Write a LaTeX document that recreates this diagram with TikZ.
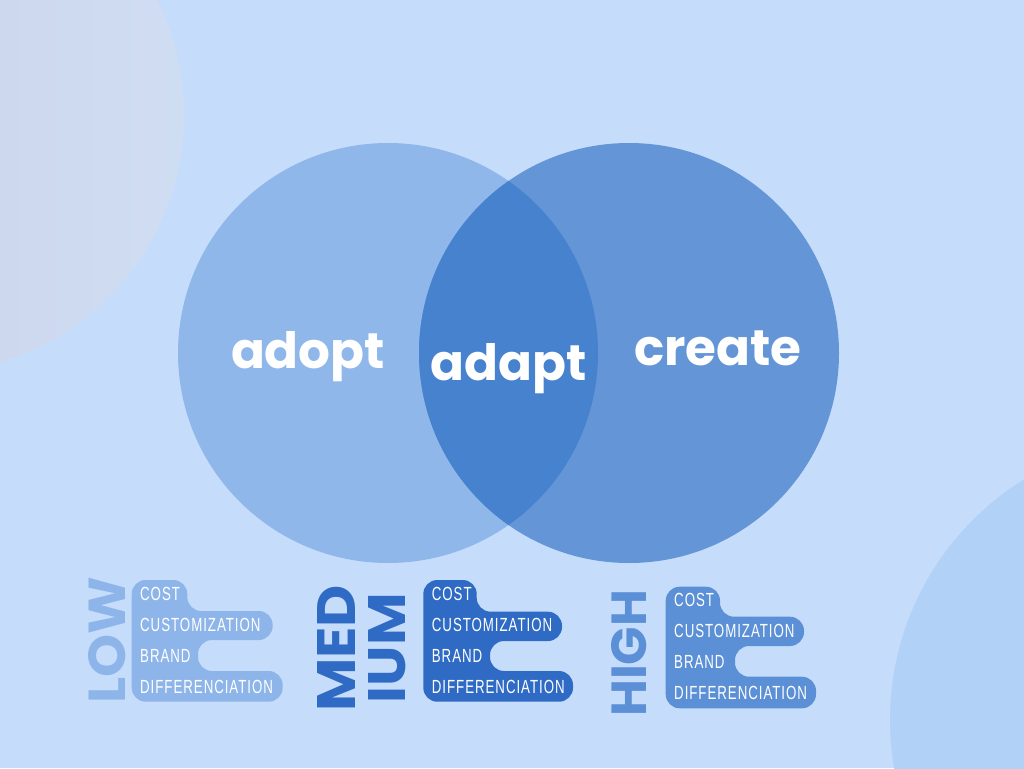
\documentclass[tikz,border=0pt]{standalone}
\usepackage{fontspec}
\setmainfont{Poppins}
\newfontfamily\condfont[FakeStretch=0.7,LetterSpace=5]{Liberation Sans}
\definecolor{bg}{RGB}{197,221,251}
\definecolor{cAdopt}{RGB}{143,183,234}
\definecolor{cCreate}{RGB}{99,149,215}
\definecolor{cLens}{RGB}{70,130,205}
\definecolor{cMed}{RGB}{47,107,196}
\definecolor{cHigh}{RGB}{91,143,214}
\definecolor{cLow}{RGB}{142,181,233}
\definecolor{blobA}{RGB}{202,207,228}
\definecolor{blobB}{RGB}{207,221,243}
\definecolor{blobC}{RGB}{177,209,247}
\tikzset{
  venntxt/.style={text=white,font=\fontsize{50}{50}\selectfont\bfseries,inner sep=0pt,anchor=base},
  rowtxt/.style={text=white,font=\fontsize{19}{19}\selectfont\condfont,inner sep=0pt,anchor=base west},
  bigtxt/.style={font=\bfseries,inner sep=0pt,rotate=90,anchor=center},
  panel/.style={rounded corners=14pt}
}
\begin{document}
\begin{tikzpicture}[x=1pt,y=-1pt]
\useasboundingbox (0,0) rectangle (1024,768);
\begin{scope}
  \clip (0,0) rectangle (1024,768);
  \fill[bg] (0,0) rectangle (1024,768);
  \shade[left color=blobA,right color=blobB] (-74,115) circle (258pt);
  \fill[blobC] (1173,720) circle (283pt);
\end{scope}
% Venn
\fill[cAdopt] (388,353) circle (210pt);
\fill[cCreate] (629,353) circle (210pt);
\begin{scope}
  \clip (388,353) circle (210pt);
  \fill[cLens] (629,353) circle (210pt);
\end{scope}
\node[venntxt] (adopt) at (308,368) {adopt};
\node[venntxt] (adapt) at (509,380) {adapt};
\node[venntxt] (create) at (718,365) {create};
% panels
\fill[cLow,panel] (131.7,580) -- (187.3,580) -- (187.3,611) -- (272.7,611) -- (272.7,640) -- (198,640) -- (198,671) -- (282.7,671) -- (282.7,701.7) -- (131.7,701.7) -- cycle;
\fill[cMed,panel] (423.3,580) -- (476.7,580) -- (476.7,611.7) -- (562,611.7) -- (562,641) -- (490,641) -- (490,671) -- (573,671) -- (573,701.7) -- (423.3,701.7) -- cycle;
\fill[cHigh,panel] (665.7,586.7) -- (720,586.7) -- (720,616.7) -- (804,616.7) -- (804,646) -- (735,646) -- (735,676.7) -- (816,676.7) -- (816,708.3) -- (665.7,708.3) -- cycle;
% big labels
\node[bigtxt,text=cLow] (low) at (106.7,640) {\resizebox{127pt}{37pt}{LOW}};
\node[bigtxt,text=cMed] (med) at (336,648.3) {\resizebox{127pt}{38pt}{MED}};
\node[bigtxt,text=cMed] (ium) at (386.7,648.3) {\resizebox{110pt}{37pt}{IUM}};
\node[bigtxt,text=cHigh] (high) at (629,653.3) {\resizebox{127pt}{35pt}{HIGH}};
% rows
\foreach \nm/\x/\y in {l/140/600, m/431.7/600, h/674/606.7}{
  \node[rowtxt] (\nm1) at (\x,\y) {COST};
  \node[rowtxt] (\nm2) at (\x,\y+31) {CUSTOMIZATION};
  \node[rowtxt] (\nm3) at (\x,\y+62) {BRAND};
  \node[rowtxt] (\nm4) at (\x,\y+93) {DIFFERENCIATION};
}
\end{tikzpicture}
\end{document}
